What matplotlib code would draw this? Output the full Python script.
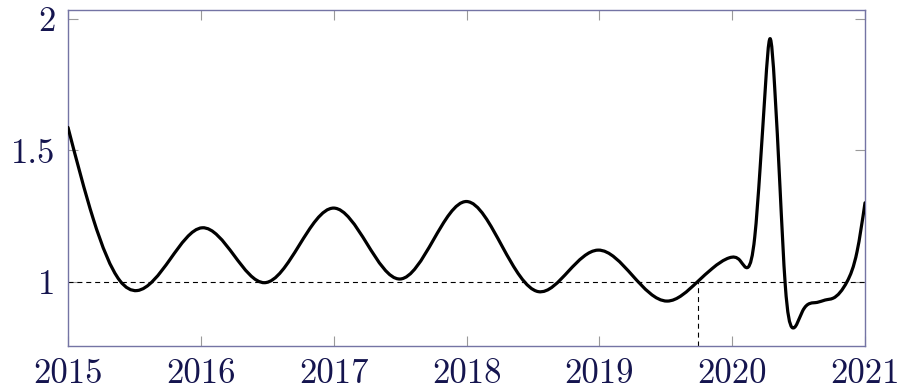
import matplotlib
matplotlib.use("Agg")
import matplotlib.pyplot as plt
import numpy as np
from matplotlib.path import Path
from matplotlib.patches import PathPatch

# values (extremes and mid-slope points)
YEARS = [
    2015.000, 2015.190, 2015.390, 2015.520, 2015.770, 2016.010, 2016.250, 2016.480,
    2016.740, 2017.000, 2017.250, 2017.500, 2017.750, 2018.000, 2018.270, 2018.540,
    2018.770, 2018.990, 2019.250, 2019.510, 2019.740, 2019.850, 2019.980, 2020.060,
    2020.120, 2020.170, 2020.210, 2020.250, 2020.285, 2020.320, 2020.360, 2020.400,
    2020.450, 2020.530, 2020.640, 2020.700, 2020.760, 2020.865, 2020.940, 2021.000,
]
VALUES = [
    1.587, 1.239, 1.004, 0.966, 1.086, 1.205, 1.100, 0.996,
    1.138, 1.280, 1.145, 1.010, 1.158, 1.305, 1.133, 0.962,
    1.041, 1.120, 1.023, 0.926, 1.000, 1.050, 1.091, 1.080,
    1.055, 1.170, 1.430, 1.740, 1.925, 1.740, 1.360, 0.985,
    0.826, 0.888, 0.921, 0.930, 0.937, 1.000, 1.114, 1.300,
]
BASELINE = 1.0
CROSS_YEAR = 2019.74

X_TICKS = [2015, 2016, 2017, 2018, 2019, 2020, 2021]
X_TICK_LABELS = ["2015", "2016", "2017", "2018", "2019", "2020", "2021"]
Y_TICKS = [1.0, 1.5, 2.0]
Y_TICK_LABELS = ["1", "1.5", "2"]

X_LIM = (2015, 2021)
Y_LIM = (0.755, 2.034)

FRAME_COLOR = "#7474a4"
TEXT_COLOR = "#15154f"
TICK_COLOR = "#9a9a9a"


def spline_path(x, y):
    """Natural cubic spline through the points, written as bezier segments."""
    x = np.asarray(x, float)
    y = np.asarray(y, float)
    n = len(x)
    h = np.diff(x)
    s = np.diff(y) / h
    # second derivatives, natural end conditions
    a = np.zeros((n, n))
    b = np.zeros(n)
    a[0, 0] = a[-1, -1] = 1.0
    for i in range(1, n - 1):
        a[i, i - 1] = h[i - 1]
        a[i, i] = 2 * (h[i - 1] + h[i])
        a[i, i + 1] = h[i]
        b[i] = 6 * (s[i] - s[i - 1])
    m = np.linalg.solve(a, b)
    d = np.empty(n)
    d[:-1] = s - h * (2 * m[:-1] + m[1:]) / 6
    d[-1] = s[-1] + h[-1] * (m[-2] + 2 * m[-1]) / 6

    verts = [(x[0], y[0])]
    codes = [Path.MOVETO]
    for i in range(n - 1):
        verts += [
            (x[i] + h[i] / 3, y[i] + d[i] * h[i] / 3),
            (x[i + 1] - h[i] / 3, y[i + 1] - d[i + 1] * h[i] / 3),
            (x[i + 1], y[i + 1]),
        ]
        codes += [Path.CURVE4] * 3
    return Path(verts, codes)


fig = plt.figure(figsize=(8.99, 3.9), dpi=100)
ax = fig.add_axes([68 / 899, 44 / 390, 797 / 899, 336 / 390])

ax.axhline(BASELINE, color="black", lw=0.8, dashes=(4.5, 3.5))
ax.plot([CROSS_YEAR, CROSS_YEAR], [Y_LIM[0], BASELINE], color="black", lw=0.8, dashes=(4.5, 3.5))

patch = PathPatch(spline_path(YEARS, VALUES), facecolor="none", edgecolor="black",
                  lw=2.3, capstyle="round", joinstyle="round", zorder=3)
ax.add_patch(patch)

ax.set_xlim(*X_LIM)
ax.set_ylim(*Y_LIM)
ax.set_xticks(X_TICKS)
ax.set_xticklabels(X_TICK_LABELS)
ax.set_yticks(Y_TICKS)
ax.set_yticklabels(Y_TICK_LABELS)

for spine in ax.spines.values():
    spine.set_color(FRAME_COLOR)
    spine.set_linewidth(1.0)

ax.tick_params(axis="both", which="major", direction="in", length=7.5, width=0.8,
               color=TICK_COLOR, labelcolor=TEXT_COLOR, labelsize=25,
               top=True, right=True)
ax.tick_params(axis="x", pad=9)
ax.tick_params(axis="y", pad=9)
for label in ax.get_xticklabels() + ax.get_yticklabels():
    label.set_fontfamily("cmr10")

fig.savefig("out.png", dpi=100)
